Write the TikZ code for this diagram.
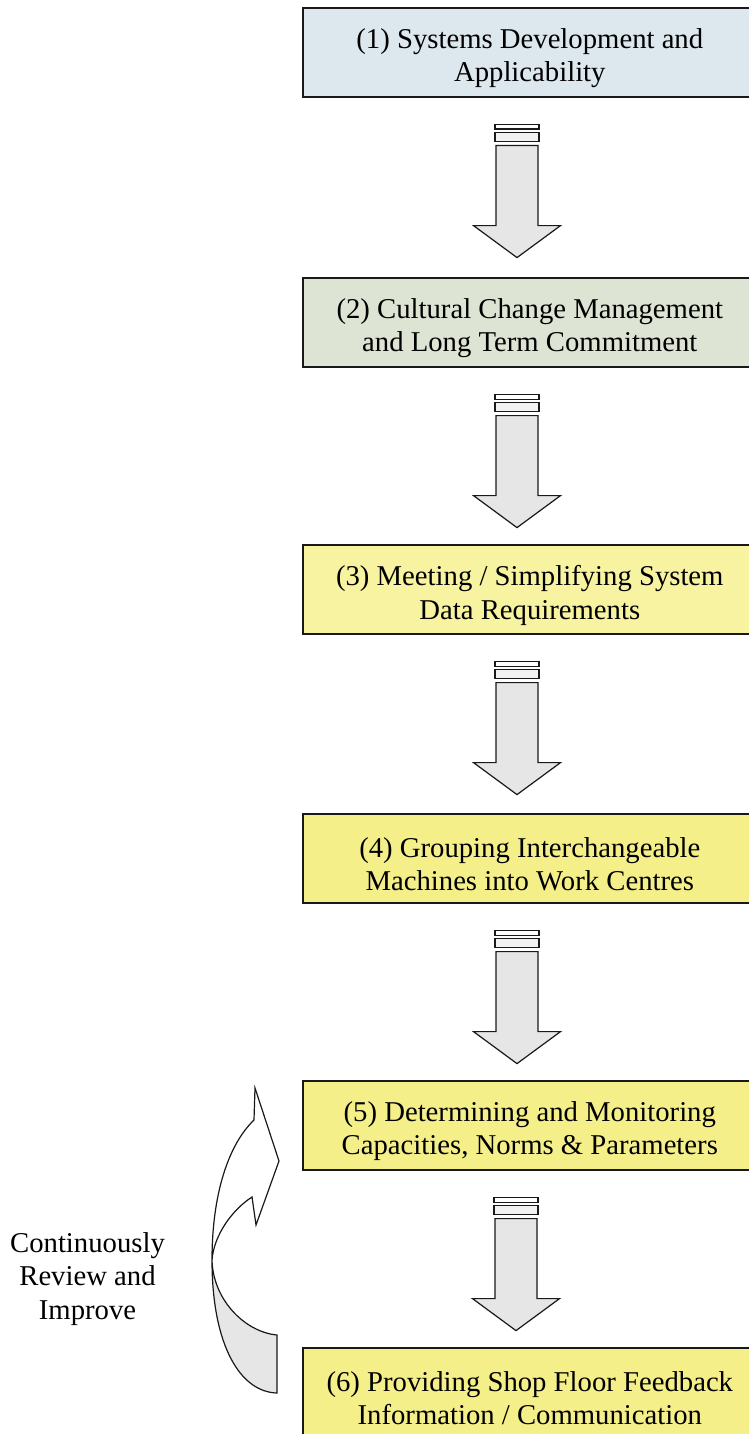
\documentclass[tikz,border=0pt]{standalone}
\usepackage{fontspec}
\setmainfont{Liberation Serif}
\usetikzlibrary{calc}

\definecolor{stageblue}{RGB}{221,231,238}
\definecolor{stagegreen}{RGB}{221,228,212}
\definecolor{stageyellowA}{RGB}{247,243,160}
\definecolor{stageyellowB}{RGB}{245,239,138}
\definecolor{arrowgray}{RGB}{230,230,230}
\definecolor{inkline}{RGB}{25,25,25}

\tikzset{
  stagebox/.style={draw=inkline, line width=1.6pt, minimum width=454pt,
    minimum height=89pt, anchor=north west, inner sep=0pt},
  stagetext/.style={align=center, inner sep=0pt,
    font=\fontsize{28.7}{33.5}\selectfont},
  outline/.style={draw=inkline, line width=1.2pt, line join=miter},
  % downward block arrow with two stripes above its shaft
  blockarrow/.pic={
    \draw[outline, fill=white] (-22,27) rectangle (22,31.5);
    \draw[outline, fill=white!95!black] (-22,35) rectangle (22,44);
    \draw[outline, fill=arrowgray] (-21,48) -- (21,48) -- (21,128)
      -- (43.5,128) -- (0,160) -- (-43.5,128) -- (-21,128) -- cycle;
  }
}

\begin{document}
\begin{tikzpicture}[x=1pt,y=-1pt]
\useasboundingbox (0,0) rectangle (749,1434);
\fill[white] (0,0) rectangle (749,1434);
\clip (0,0) rectangle (749,1434);

% stage boxes
\node[stagebox, fill=stageblue]   (box1) at (302,7)    {};
\node[stagebox, fill=stagegreen]  (box2) at (302,277)  {};
\node[stagebox, fill=stageyellowA] (box3) at (302,544) {};
\node[stagebox, fill=stageyellowB] (box4) at (302,813) {};
\node[stagebox, fill=stageyellowB] (box5) at (302,1080) {};
\node[stagebox, fill=stageyellowB] (box6) at (302,1347) {};

% stage titles
\node[stagetext] (t1) at ($(box1.center)+(0,6)$) {(1) Systems Development and\\Applicability};
\node[stagetext] (t2) at ($(box2.center)+(0,6)$) {(2) Cultural Change Management\\and Long Term Commitment};
\node[stagetext] (t3) at ($(box3.center)+(0,6)$) {(3) Meeting / Simplifying System\\Data Requirements};
\node[stagetext] (t4) at ($(box4.center)+(0,6)$) {(4) Grouping Interchangeable\\Machines into Work Centres};
\node[stagetext] (t5) at ($(box5.center)+(0,6)$) {(5) Determining and Monitoring\\Capacities, Norms \& Parameters};
\node[stagetext] (t6) at ($(box6.center)+(0,6)$) {(6) Providing Shop Floor Feedback\\Information / Communication};

% block arrows between consecutive stages
\pic at ($(box1.south west)+(215,0)$) {blockarrow};
\pic at ($(box2.south west)+(215,0)$) {blockarrow};
\pic at ($(box3.south west)+(215,0)$) {blockarrow};
\pic at ($(box4.south west)+(215,0)$) {blockarrow};
\pic at ($(box5.south west)+(214,0)$) {blockarrow};

% curved feedback arrow: back face (lower) and front face with head (upper)
\draw[outline, fill=arrowgray] (277,1393) -- (277,1335)
  .. controls (245,1332) and (213,1300) .. (212,1260)
  .. controls (212,1345) and (240,1392) .. (277,1393) -- cycle;
\draw[outline, fill=white] (212,1260)
  .. controls (212,1195) and (228,1145) .. (254,1120)
  -- (255,1088) -- (279,1161) -- (256,1225) -- (252,1197)
  .. controls (232,1210) and (214,1235) .. (212,1260) -- cycle;

\node[stagetext] (loop) at (87.5,1279) {Continuously\\Review and\\Improve};
\end{tikzpicture}
\end{document}
